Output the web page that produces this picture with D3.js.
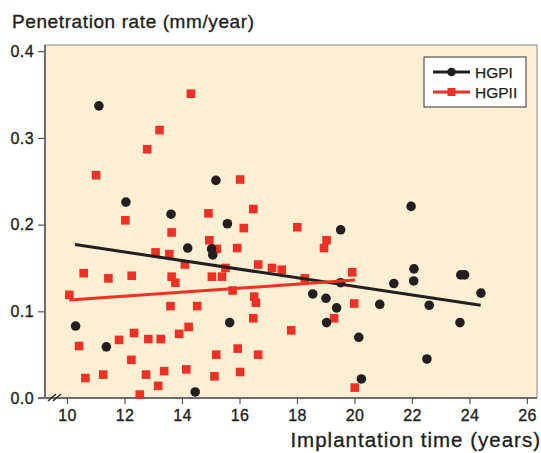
<!DOCTYPE html>
<html>
<head>
<meta charset="utf-8">
<script src="https://cdn.jsdelivr.net/npm/d3@7"></script>
<style>
  body { margin: 0; background: #fff; }
  svg { display: block; font-family: "Liberation Sans", Arial, Helvetica, sans-serif; }
</style>
</head>
<body>
<svg width="541" height="453"></svg>
<script>
// HGPI (black circles): [implantation time, penetration rate]
const hgpi = [
  [10.3, 0.083], [11.11, 0.337], [11.37, 0.059], [12.05, 0.226], [13.62, 0.212],
  [14.2, 0.173], [14.46, 0.007], [15.18, 0.251], [15.03, 0.172], [15.07, 0.165],
  [15.58, 0.201], [15.66, 0.087], [18.55, 0.120], [19.01, 0.115], [19.03, 0.087],
  [19.38, 0.104], [19.52, 0.194], [19.52, 0.133], [20.15, 0.070], [20.24, 0.022],
  [20.88, 0.108], [21.37, 0.132], [21.97, 0.221], [22.06, 0.135], [22.07, 0.149],
  [22.52, 0.045], [22.6, 0.107], [23.67, 0.087], [23.7, 0.142], [23.83, 0.142],
  [24.4, 0.121]
];

// HGPII (red squares)
const hgpii = [
  [14.31, 0.351], [13.22, 0.309], [12.79, 0.287], [11.01, 0.257], [14.92, 0.213],
  [12.03, 0.205], [13.64, 0.191], [14.95, 0.182], [15.21, 0.172], [13.08, 0.168],
  [13.56, 0.166], [14.1, 0.154], [10.58, 0.144], [11.44, 0.138], [12.25, 0.141],
  [13.64, 0.140], [13.77, 0.133], [15.04, 0.140], [15.39, 0.140], [10.08, 0.119],
  [13.6, 0.106], [14.53, 0.106], [14.23, 0.082], [13.9, 0.074], [12.33, 0.075],
  [11.81, 0.067], [12.83, 0.068], [13.26, 0.068], [10.42, 0.060], [12.24, 0.044],
  [15.19, 0.050], [10.64, 0.023], [11.26, 0.027], [12.75, 0.027], [13.38, 0.031],
  [14.15, 0.033], [15.13, 0.025], [13.17, 0.014], [12.53, 0.004], [16.02, 0.252],
  [16.48, 0.218], [16.15, 0.196], [18.01, 0.197], [19.03, 0.182], [18.94, 0.173],
  [15.92, 0.173], [15.51, 0.150], [16.65, 0.154], [17.13, 0.150], [17.47, 0.148],
  [19.92, 0.145], [18.27, 0.138], [15.76, 0.124], [16.51, 0.117], [16.57, 0.110],
  [19.99, 0.109], [16.48, 0.092], [19.29, 0.092], [17.8, 0.078], [15.94, 0.057],
  [16.65, 0.050], [16.02, 0.030], [20.01, 0.012]
];

// fitted trend lines (end points)
const hgpiFit = [[10.28, 0.177], [24.39, 0.107]];
const hgpiiFit = [[10.08, 0.113], [20.02, 0.136]];

const xTicks = [10, 12, 14, 16, 18, 20, 22, 24, 26];
const yTicks = [0, 0.1, 0.2, 0.3, 0.4];

const svg = d3.select('svg');
const plotLeft = 45, plotRight = 537, plotTop = 45, plotBottom = 398;

const x = d3.scaleLinear().domain([9.235, 26.35]).range([plotLeft, plotRight]);
const y = d3.scaleLinear().domain([0, 0.4072]).range([plotBottom, plotTop]);

const black = '#231f20';
const red = '#ee3124';

// slightly heavier text, like the original's medium weight
const heavy = sel => sel
  .attr('fill', black)
  .attr('stroke', black)
  .attr('stroke-width', 0.35);

// plot background
svg.append('rect')
  .attr('x', plotLeft).attr('y', plotTop)
  .attr('width', plotRight - plotLeft).attr('height', plotBottom - plotTop)
  .attr('fill', '#fdefd4')
  .attr('stroke', '#8a8a8a')
  .attr('stroke-width', 1);

// axes
const yAxis = svg.append('g')
  .attr('transform', `translate(${plotLeft},0)`)
  .call(d3.axisLeft(y).tickValues(yTicks).tickFormat(d3.format('.1f')).tickSize(7).tickPadding(4));

const xAxis = svg.append('g')
  .attr('transform', `translate(0,${plotBottom})`)
  .call(d3.axisBottom(x).tickValues(xTicks).tickSize(6).tickPadding(6));

[yAxis, xAxis].forEach(g => {
  g.select('.domain').attr('stroke', '#6d6d6d').attr('stroke-width', 2);
  g.selectAll('.tick line').attr('stroke', '#555').attr('stroke-width', 1.2);
  g.selectAll('.tick text')
    .call(heavy)
    .attr('font-size', 16)
    .attr('letter-spacing', 0.4)
    .attr('font-family', '"Liberation Sans", Arial, sans-serif');
});
xAxis.select('.domain').attr('d', `M${plotLeft - 7},0H${plotRight}`);
yAxis.select('.domain').attr('d', `M0,${plotTop}V${plotBottom}`);

// axis break marks
svg.append('g')
  .attr('stroke', black)
  .attr('stroke-width', 1.3)
  .selectAll('line')
  .data([0, 5])
  .join('line')
  .attr('x1', d => 48 + d).attr('y1', plotBottom + 3)
  .attr('x2', d => 56 + d).attr('y2', plotBottom - 4);

// points
svg.append('g')
  .selectAll('rect')
  .data(hgpii)
  .join('rect')
  .attr('x', d => x(d[0]) - 4.3)
  .attr('y', d => y(d[1]) - 4.3)
  .attr('width', 8.6)
  .attr('height', 8.6)
  .attr('fill', red);

svg.append('g')
  .selectAll('circle')
  .data(hgpi)
  .join('circle')
  .attr('cx', d => x(d[0]))
  .attr('cy', d => y(d[1]))
  .attr('r', 4.8)
  .attr('fill', black);

// trend lines
const line = d3.line().x(d => x(d[0])).y(d => y(d[1]));
svg.append('path')
  .datum(hgpiFit)
  .attr('d', line)
  .attr('stroke', black)
  .attr('stroke-width', 3)
  .attr('fill', 'none');
svg.append('path')
  .datum(hgpiiFit)
  .attr('d', line)
  .attr('stroke', red)
  .attr('stroke-width', 3)
  .attr('fill', 'none');

// legend
const legend = svg.append('g').attr('transform', 'translate(424,57)');
legend.append('rect')
  .attr('width', 102).attr('height', 50)
  .attr('fill', '#fff')
  .attr('stroke', '#333')
  .attr('stroke-width', 1);

const items = [
  { name: 'HGPI', color: black, shape: 'circle' },
  { name: 'HGPII', color: red, shape: 'square' }
];
const item = legend.selectAll('g.item')
  .data(items)
  .join('g')
  .attr('class', 'item')
  .attr('transform', (d, i) => `translate(0,${15 + i * 20})`);
item.append('line')
  .attr('x1', 9).attr('x2', 46)
  .attr('stroke', d => d.color)
  .attr('stroke-width', 3);
item.filter(d => d.shape === 'circle').append('circle')
  .attr('cx', 27.5).attr('r', 4.3).attr('fill', d => d.color);
item.filter(d => d.shape === 'square').append('rect')
  .attr('x', 23.5).attr('y', -4).attr('width', 8).attr('height', 8).attr('fill', d => d.color);
item.append('text')
  .attr('x', 51).attr('dy', '0.36em')
  .attr('font-size', 15.5)
  .call(heavy)
  .attr('stroke-width', 0.25)
  .text(d => d.name);

// titles
svg.append('text')
  .attr('x', 12).attr('y', 27.5)
  .attr('font-size', 19)
  .attr('letter-spacing', 0.6)
  .call(heavy)
  .text('Penetration rate (mm/year)');

svg.append('text')
  .attr('x', 541).attr('y', 446.5)
  .attr('text-anchor', 'end')
  .attr('font-size', 20.5)
  .attr('letter-spacing', 1.0)
  .call(heavy)
  .text('Implantation time (years)');
</script>
</body>
</html>
